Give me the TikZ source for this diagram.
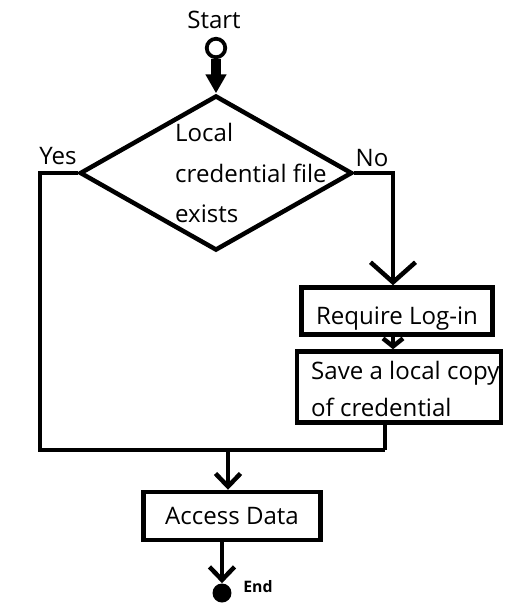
\documentclass[tikz,border=0pt]{standalone}
\usepackage{fontspec}
\setmainfont{Open Sans}
\usetikzlibrary{shapes.geometric, arrows.meta}

\begin{document}
\begin{tikzpicture}[x=0.02cm, y=-0.02cm,
        txt/.style={font=\fontsize{13.7}{23}\selectfont},
        box/.style={draw, line width=0.09cm, inner sep=0pt, txt},
        flow/.style={line width=0.09cm},
        arr/.style={flow, -{Straight Barb[length=0.26cm, width=0.5cm]}},
        bigarr/.style={flow, -{Straight Barb[length=0.4cm, width=0.9cm]}},
        smallarr/.style={flow, -{Straight Barb[length=0.16cm, width=0.4cm]}},
        ]
    \useasboundingbox (0,0) rectangle (528,610);

    \node (St) at (214,20) [txt] {Start};
    \node (S) at (216,48) [circle, draw, line width=0.075cm, minimum size=0.37cm, inner sep=0pt] {};

    \node (D) at (216,173) [diamond, draw, line width=0.09cm, minimum width=5.45cm, minimum height=3.1cm, inner sep=0pt] {};
    \node (Dt) at (169,173) [txt, anchor=west, align=left] {Local\\credential file\\exists};
    \node (Y) at (58,156) [txt] {Yes};
    \node (N) at (372,158) [txt] {No};

    \node (R) at (397,311) [box, minimum width=3.82cm, minimum height=0.94cm, text height=15pt, text depth=0pt] {Require Log-in};
    \node (L) at (399,387) [box, minimum width=4.08cm, minimum height=1.42cm] {};
    \node (Lt) at (305,389) [txt, anchor=west, align=left, font=\fontsize{13.7}{21.5}\selectfont] {Save a local copy\\of credential};

    \node (A) at (232,516) [box, minimum width=3.54cm, minimum height=0.96cm] {Access Data};
    \node (E) at (222,593) [circle, fill, minimum size=0.38cm, inner sep=0pt] {};
    \node (Et) at (258,587) [font=\fontsize{9}{11}\selectfont\bfseries] {End};

    \coordinate (Nc) at (393,173);
    \coordinate (Yb) at (40,450);
    \coordinate (M) at (228,450);
    \coordinate (Mr) at (385,450);

    \draw [line width=0.2cm, -{Triangle[length=0.38cm, width=0.4cm]}] (S) -- (D);
    \draw [bigarr] (D.east) -- (Nc) -- (Nc |- R.north);
    \draw [smallarr] (R.south -| Nc) -- (L.north -| Nc);
    \draw [flow] (D.west) -| (Yb) -- (Mr);
    \draw [flow] (L.south -| Mr) -- (Mr);
    \draw [arr] (M) -- (M |- A.north);
    \draw [arr] (A.south -| E) -- (E);
\end{tikzpicture}
\end{document}
